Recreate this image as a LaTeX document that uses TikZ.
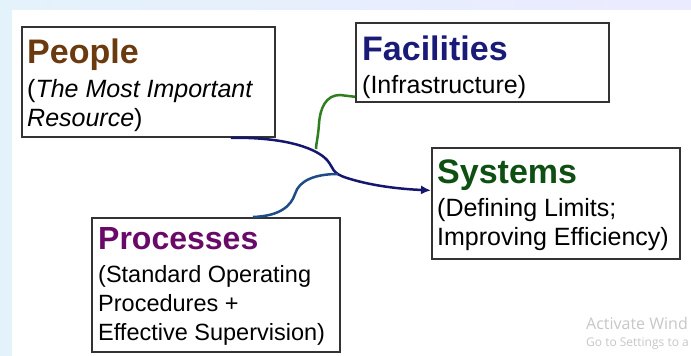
\documentclass[tikz,border=0pt]{standalone}
\usepackage{fontspec}
\setmainfont{Liberation Sans}
\newfontfamily\winfont{Open Sans}
\usetikzlibrary{arrows.meta}

\definecolor{peoplebrown}{HTML}{6B3A0E}
\definecolor{facnavy}{HTML}{1A1A78}
\definecolor{sysgreen}{HTML}{0E4F12}
\definecolor{procpurple}{HTML}{6A0A68}
\definecolor{linknavy}{HTML}{16166E}
\definecolor{linkgreen}{HTML}{2F7F1F}
\definecolor{linkblue}{HTML}{1E4C86}
\definecolor{paleblue}{HTML}{E4F2FB}

\newcommand{\headsize}{\fontsize{34}{40}\selectfont\bfseries}
\newcommand{\subsize}{\fontsize{25}{29}\selectfont}

\tikzset{
  card/.style={draw=black!80, line width=1.8pt, fill=white, anchor=north west, inner sep=0pt},
  head/.style={anchor=base west, inner sep=0pt, font=\headsize},
  % base of a multi-line node sits on its last line
  sub/.style={anchor=base west, inner sep=0pt, align=left, font=\subsize},
  link/.style={line width=2.5pt},
}

\begin{document}
\begin{tikzpicture}[x=1pt,y=-1pt]
    % backdrop
    \fill[paleblue] (0,0) rectangle (691,356);
    \shade[left color=paleblue, right color=blue!8!white] (0,0) rectangle (691,10);
    \fill[white] (12,10) rectangle (691,356);
    \useasboundingbox (0,0) rectangle (691,356);

    % the four cards
    \node[card, minimum width=253pt, minimum height=110pt] (people) at (21,26) {};
    \node[card, minimum width=253pt, minimum height=79pt] (facilities) at (355,22) {};
    \node[card, minimum width=248pt, minimum height=111pt] (systems) at (431,147) {};
    \node[card, minimum width=248pt, minimum height=134pt] (processes) at (91,217) {};

    \node[head, text=peoplebrown] (people-head) at (27,63) {People};
    \node[sub] (people-sub) at (27,126) {(\textit{The Most Important}\\\textit{Resource})};

    \node[head, text=facnavy] (facilities-head) at (362,60) {Facilities};
    \node[sub] (facilities-sub) at (362,93) {(Infrastructure)};

    \node[head, text=sysgreen] (systems-head) at (437,183) {Systems};
    \node[sub] (systems-sub) at (437,245) {(Defining Limits;\\Improving Efficiency)};

    \node[head, text=procpurple, font=\fontsize{32}{38}\selectfont\bfseries] (processes-head) at (98,249) {Processes};
    \node[sub, font=\fontsize{23.5}{29}\selectfont] (processes-sub) at (98,340) {(Standard Operating\\Procedures +\\Effective Supervision)};

    % where the side links meet the main one
    \coordinate (fjoin) at (316,149);
    \coordinate (pjoin) at (338,174);

    \draw[link, linknavy, -{Latex[length=10pt,width=9pt]}] ([xshift=-45pt]people.south east)
        .. controls (290,137) and (318,150) .. (327,160)
        .. controls (334,168) and (331,173) .. (347,178)
        .. controls (372,186) and (400,189) .. ([yshift=13pt]systems.west);
    \draw[link, linkgreen] ([yshift=6pt]facilities.south west) -- (340,95)
        .. controls (326,95) and (320,108) .. (319,124)
        .. controls (318,138) and (316,144) .. (fjoin);
    \draw[link, linkblue] ([xshift=162pt]processes.north west)
        .. controls (280,216) and (291,206) .. (295,194)
        .. controls (299,180) and (316,174) .. (pjoin);

    % watermark in the corner
    \node[anchor=base west, inner sep=0pt, text=black!22, font=\winfont\fontsize{16}{19}\selectfont] (wm-top) at (586,329) {Activate Wind};
    \node[anchor=base west, inner sep=0pt, text=black!22, font=\winfont\fontsize{12}{14}\selectfont] (wm-bottom) at (586,346) {Go to Settings to a};
\end{tikzpicture}
\end{document}
